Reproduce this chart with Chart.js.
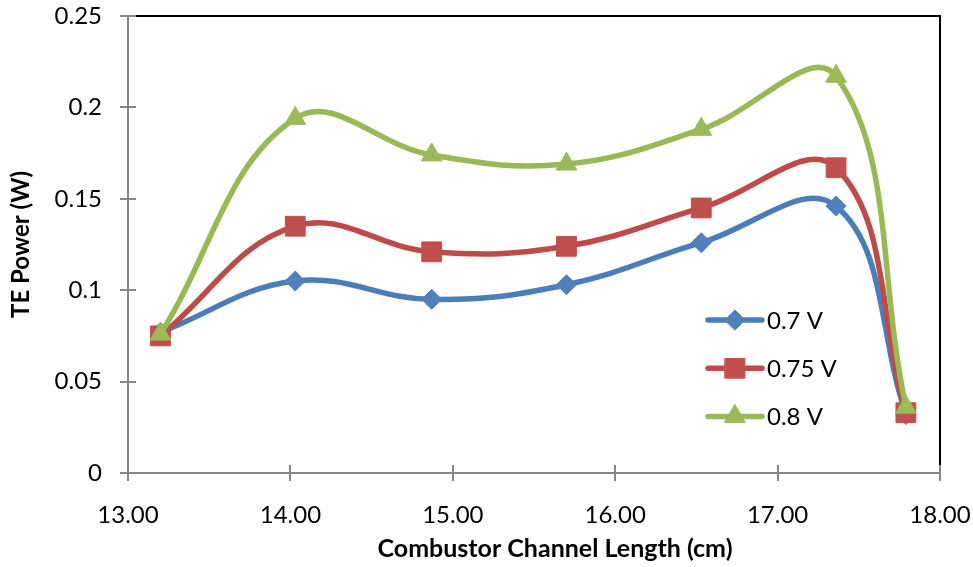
<!DOCTYPE html>
<html>
<head>
<meta charset="utf-8">
<title>TE Power vs Combustor Channel Length</title>
<script src="https://cdn.jsdelivr.net/npm/chart.js@4.4.1/dist/chart.umd.min.js"></script>
<style>
  html, body { margin: 0; padding: 0; background: #ffffff; }
  #wrap { width: 973px; height: 567px; }
</style>
</head>
<body>
<div id="wrap"><canvas id="chart" width="973" height="567"></canvas></div>
<script>
// Combustor channel length (cm)
const channelLength = [13.20, 14.03, 14.87, 15.70, 16.53, 17.36, 17.79];

// Thermoelectric power (W) at each operating voltage
const power07V  = [0.077, 0.105, 0.095, 0.103, 0.126, 0.146, 0.032];
const power075V = [0.075, 0.135, 0.121, 0.124, 0.145, 0.167, 0.033];
const power08V  = [0.076, 0.194, 0.174, 0.169, 0.188, 0.217, 0.036];

const seriesLabels = ['0.7 V', '0.75 V', '0.8 V'];

// Axis tick labels
const xTickLabels = ['13.00', '14.00', '15.00', '16.00', '17.00', '18.00'];
const yTickLabels = ['0', '0.05', '0.1', '0.15', '0.2', '0.25'];

const xTitle = 'Combustor Channel Length (cm)';
const yTitle = 'TE Power (W)';

const FONT = 'Lato, "Liberation Sans", sans-serif';
const AXIS_GREY = '#868686';

function toPoints(ys) {
  return channelLength.map((x, i) => ({ x: x, y: ys[i] }));
}

const styles = [
  { line: '#4A7EBB', fill: '#4F81BD', pointStyle: 'rectRot', radius: 10 },
  { line: '#BE4B48', fill: '#C0504D', pointStyle: 'rect', radius: 14 },
  { line: '#98B954', fill: '#9BBB59', pointStyle: 'triangle', radius: 12 }
];

const seriesValues = [power07V, power075V, power08V];

const datasets = seriesValues.map((vals, i) => ({
  label: seriesLabels[i],
  data: toPoints(vals),
  borderColor: styles[i].line,
  backgroundColor: styles[i].fill,
  borderWidth: 5.5,
  tension: 0.4,
  pointStyle: styles[i].pointStyle,
  pointRadius: styles[i].radius,
  pointHoverRadius: styles[i].radius,
  pointBackgroundColor: styles[i].fill,
  pointBorderColor: styles[i].fill,
  pointBorderWidth: 1,
  // later series sit on top of earlier ones
  order: seriesValues.length - i
}));

// Let the layout padding alone decide the plot margins
function clearScalePadding(scale) {
  scale.paddingTop = 0;
  scale.paddingBottom = 0;
  scale.paddingLeft = 0;
  scale.paddingRight = 0;
}

// Plot frame (black top/right edges), inward halves of the tick marks,
// the horizontal axis title and the in-plot legend.
const framePlugin = {
  id: 'frame',
  beforeDatasetsDraw(chart) {
    const { ctx, chartArea: a, scales } = chart;
    ctx.save();
    ctx.strokeStyle = '#000000';
    ctx.lineWidth = 2;
    ctx.beginPath();
    ctx.moveTo(a.left, a.top);
    ctx.lineTo(a.right, a.top);
    ctx.lineTo(a.right, a.bottom);
    ctx.stroke();

    ctx.strokeStyle = AXIS_GREY;
    ctx.lineWidth = 2;
    ctx.beginPath();
    scales.x.ticks.forEach(t => {
      const px = Math.round(scales.x.getPixelForValue(t.value));
      ctx.moveTo(px, a.bottom);
      ctx.lineTo(px, a.bottom - 8);
    });
    scales.y.ticks.forEach(t => {
      const py = Math.round(scales.y.getPixelForValue(t.value));
      ctx.moveTo(a.left, py);
      ctx.lineTo(a.left + 8, py);
    });
    ctx.stroke();
    ctx.restore();
  },
  afterDraw(chart) {
    const { ctx, chartArea: a } = chart;
    ctx.save();
    // horizontal axis title
    ctx.font = 'bold 25px ' + FONT;
    ctx.fillStyle = '#000000';
    ctx.textAlign = 'center';
    ctx.textBaseline = 'middle';
    ctx.fillText(xTitle, (a.left + a.right) / 2 + 21, 549);

    // legend inside the plot area
    const lx0 = a.right - 232, lx1 = a.right - 178, rowY0 = a.top + 304, rowStep = 48.3;
    chart.data.datasets.forEach((ds, i) => {
      const y = rowY0 + i * rowStep;
      ctx.strokeStyle = ds.borderColor;
      ctx.lineWidth = ds.borderWidth;
      ctx.lineCap = 'round';
      ctx.beginPath();
      ctx.moveTo(lx0, y);
      ctx.lineTo(lx1, y);
      ctx.stroke();
      ctx.fillStyle = ds.pointBackgroundColor;
      ctx.strokeStyle = ds.pointBorderColor;
      ctx.lineWidth = 1;
      Chart.helpers.drawPoint(ctx, {
        pointStyle: ds.pointStyle,
        radius: ds.pointRadius,
        rotation: 0,
        borderWidth: 1
      }, (lx0 + lx1) / 2, y);
      ctx.fillStyle = '#000000';
      ctx.font = '24px ' + FONT;
      ctx.textAlign = 'left';
      ctx.textBaseline = 'middle';
      ctx.fillText(ds.label, lx1 + 5, y + 1);
    });
    ctx.restore();
  }
};

new Chart(document.getElementById('chart'), {
  type: 'line',
  data: { datasets: datasets },
  plugins: [framePlugin],
  options: {
    responsive: false,
    animation: false,
    devicePixelRatio: 1,
    layout: { padding: { left: 0, right: 33, top: 16, bottom: 0 } },
    plugins: {
      legend: { display: false },
      tooltip: { enabled: false },
      title: { display: false }
    },
    scales: {
      x: {
        type: 'linear',
        min: 13,
        max: 18,
        afterFit(scale) { scale.height = 94; clearScalePadding(scale); },
        afterBuildTicks(scale) {
          scale.ticks = xTickLabels.map(s => ({ value: parseFloat(s) }));
        },
        ticks: {
          callback: (v, i) => xTickLabels[i],
          font: { family: FONT, size: 24 },
          color: '#000000',
          padding: 20,
          maxRotation: 0,
          autoSkip: false
        },
        grid: {
          drawOnChartArea: false,
          drawTicks: true,
          tickLength: 8,
          color: AXIS_GREY,
          lineWidth: 2
        },
        border: { display: true, color: AXIS_GREY, width: 2 }
      },
      y: {
        type: 'linear',
        min: 0,
        max: 0.25,
        afterFit(scale) { scale.width = 128; clearScalePadding(scale); },
        afterBuildTicks(scale) {
          scale.ticks = yTickLabels.map(s => ({ value: parseFloat(s) }));
        },
        ticks: {
          callback: (v, i) => yTickLabels[i],
          font: { family: FONT, size: 24 },
          color: '#000000',
          padding: 18,
          autoSkip: false
        },
        grid: {
          drawOnChartArea: false,
          drawTicks: true,
          tickLength: 8,
          color: AXIS_GREY,
          lineWidth: 2
        },
        border: { display: true, color: AXIS_GREY, width: 2 },
        title: {
          display: true,
          text: yTitle,
          font: { family: FONT, size: 24, weight: 'bold' },
          color: '#000000',
          padding: { top: 7, bottom: 0 }
        }
      }
    }
  }
});
</script>
</body>
</html>
